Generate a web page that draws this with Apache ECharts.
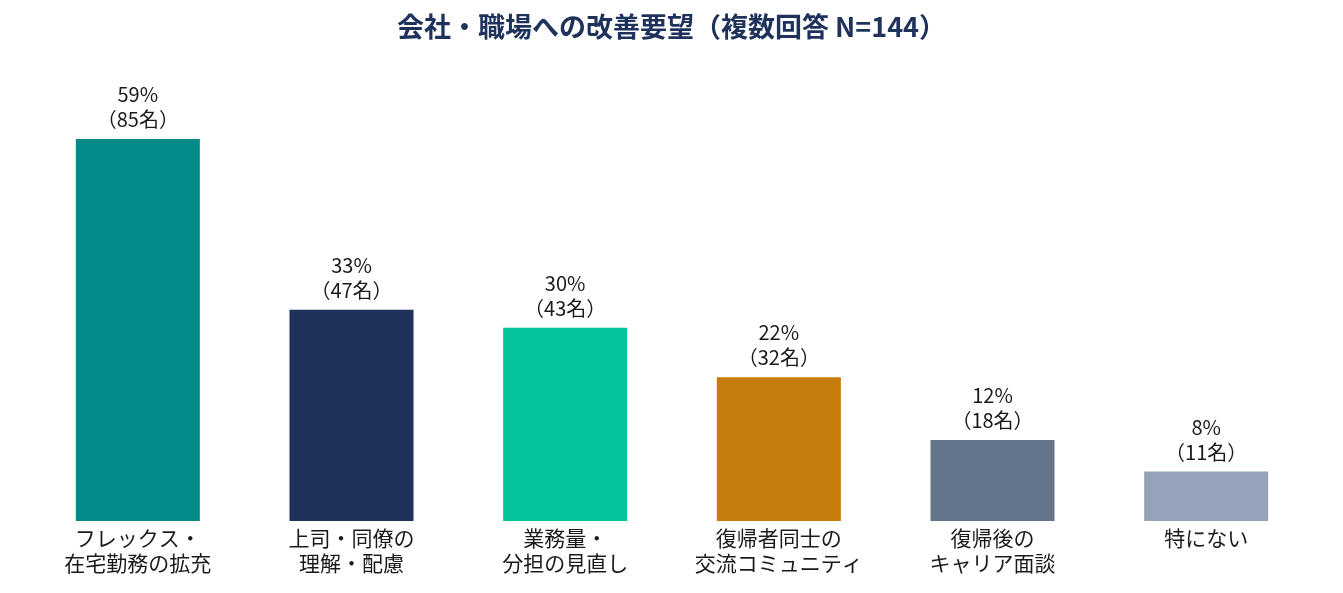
<!DOCTYPE html>
<html>
<head>
<meta charset="utf-8">
<script src="https://cdn.jsdelivr.net/npm/echarts@6/dist/echarts.min.js"></script>
<style>
  html, body { margin: 0; padding: 0; background: #fff; }
  #chart { width: 1343px; height: 593px; }
</style>
</head>
<body>
<div id="chart"></div>
<script>
// 回答項目
const categories = [
  'フレックス・\n在宅勤務の拡充',
  '上司・同僚の\n理解・配慮',
  '業務量・\n分担の見直し',
  '復帰者同士の\n交流コミュニティ',
  '復帰後の\nキャリア面談',
  '特にない'
]
// 回答人数（N=144）
const counts = [85, 47, 43, 32, 18, 11]
// 割合ラベル
const percents = ['59%', '33%', '30%', '22%', '12%', '8%']
const colors = ['#058a8a', '#1e325c', '#04c49b', '#c47c0b', '#64748b', '#94a3b8']

const font = '"Noto Sans CJK JP", "Noto Sans", sans-serif'
const chart = echarts.init(document.getElementById('chart'), '', { renderer: 'canvas' })

chart.setOption({
  animation: false,
  title: {
    text: '会社・職場への改善要望（複数回答 N=144）',
    left: 'center',
    top: 8,
    textStyle: { fontFamily: font, fontSize: 27, fontWeight: 'bold', color: '#1e325c' }
  },
  grid: { left: 31, right: 30, top: 71.6, bottom: 72 },
  xAxis: {
    type: 'category',
    data: categories,
    axisLine: { show: false },
    axisTick: { show: false },
    axisLabel: {
      interval: 0,
      margin: 5,
      fontFamily: font,
      fontSize: 21,
      lineHeight: 25,
      color: '#1a1a1a'
    }
  },
  yAxis: {
    type: 'value',
    min: 0,
    max: 100,
    show: false,
    splitLine: { show: false }
  },
  series: [{
    type: 'bar',
    barWidth: 124,
    data: counts.map((v, i) => ({ value: v, itemStyle: { color: colors[i] } })),
    label: {
      show: true,
      position: 'top',
      distance: 7,
      fontFamily: font,
      fontSize: 20,
      lineHeight: 25,
      color: '#1a1a1a',
      formatter: p => percents[p.dataIndex] + '\n（' + counts[p.dataIndex] + '名）'
    }
  }]
})
</script>
</body>
</html>
